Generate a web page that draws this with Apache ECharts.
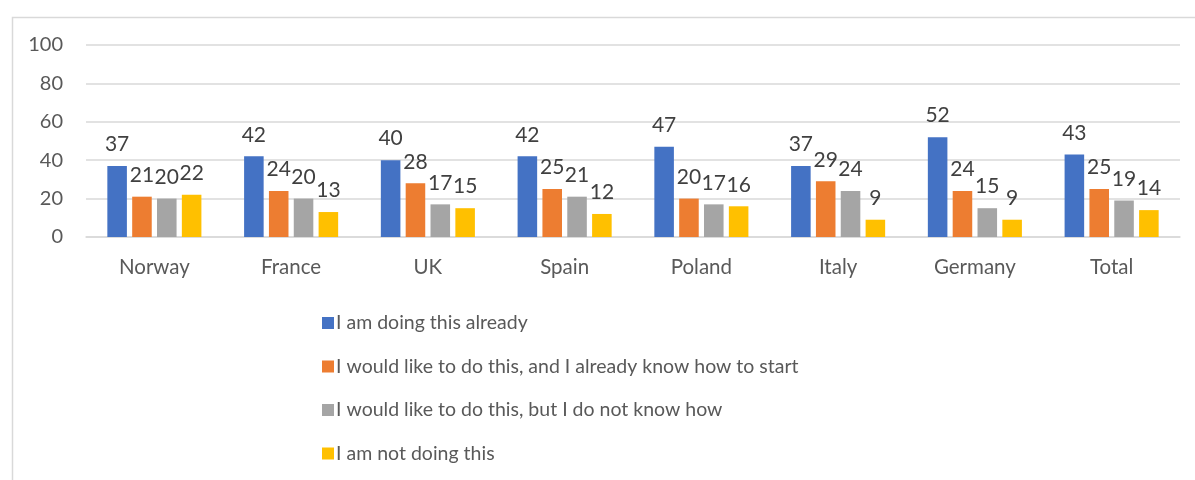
<!DOCTYPE html>
<html>
<head>
<meta charset="utf-8">
<script src="https://cdn.jsdelivr.net/npm/echarts@6/dist/echarts.min.js"></script>
<style>
html,body{margin:0;padding:0;background:#fff;}
#chart{width:1195px;height:480px;}
</style>
</head>
<body>
<div id="chart"></div>
<script>
const categories = ['Norway','France','UK','Spain','Poland','Italy','Germany','Total'];
const seriesNames = [
  'I am doing this already',
  'I would like to do this, and I already know how to start',
  'I would like to do this, but I do not know how',
  'I am not doing this'
];
const doingAlready = [37,42,40,42,47,37,52,43];
const likeKnowHow = [21,24,28,25,20,29,24,25];
const likeDontKnow = [20,20,17,21,17,24,15,19];
const notDoing = [22,13,15,12,16,9,9,14];
const yTicks = [0,20,40,60,80,100];
const colors = ['#4472C4','#ED7D31','#A5A5A5','#FFC000'];

const FONT = 'Lato, "Open Sans", sans-serif';
const values = [doingAlready, likeKnowHow, likeDontKnow, notDoing];

const chart = echarts.init(document.getElementById('chart'), null, {renderer:'canvas'});
chart.setOption({
  animation:false,
  backgroundColor:'#fff',
  textStyle:{fontFamily:FONT},
  graphic:[{
    type:'rect', left:10, top:15, silent:true,
    shape:{x:0,y:0,width:1200,height:480},
    style:{fill:'none', stroke:'#d9d9d9', lineWidth:1.5}
  }],
  grid:{left:86, right:15, top:45, bottom:243},
  legend:{
    orient:'vertical', left:317, top:308,
    itemWidth:12, itemHeight:12, itemGap:23.5, icon:'rect',
    data:seriesNames,
    textStyle:{color:'#595959', fontSize:19.5, fontFamily:FONT, padding:[0,0,0,-3]}
  },
  xAxis:{
    type:'category', data:categories,
    axisLine:{lineStyle:{color:'#d9d9d9', width:1.5}},
    axisTick:{show:false},
    axisLabel:{color:'#595959', fontSize:20.5, margin:20, fontFamily:FONT}
  },
  yAxis:{
    type:'value', min:yTicks[0], max:yTicks[yTicks.length-1], interval:20,
    axisLine:{show:false}, axisTick:{show:false},
    axisLabel:{color:'#595959', fontSize:20, margin:23, fontFamily:FONT},
    splitLine:{lineStyle:{color:'#d9d9d9', width:1.5}}
  },
  series: seriesNames.map((n,i)=>({
    name:n, type:'bar', data:values[i],
    barWidth:'14.3%', barGap:'27%',
    itemStyle:{color:colors[i]},
    label:{show:true, position:'top', distance:11, color:'#404040', fontSize:21, fontFamily:FONT}
  }))
});
</script>
</body>
</html>
